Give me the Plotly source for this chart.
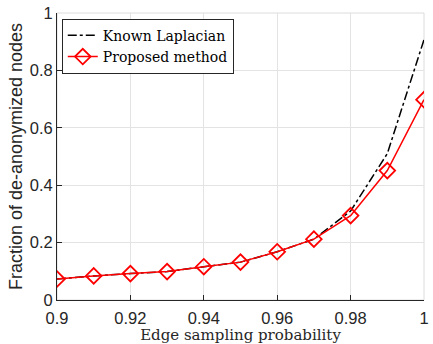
import plotly.graph_objects as go

x_vals = [0.90, 0.91, 0.92, 0.93, 0.94, 0.95, 0.96, 0.97, 0.98, 0.99, 1.00]
known_laplacian = [0.073, 0.084, 0.092, 0.099, 0.116, 0.132, 0.168, 0.212, 0.31, 0.51, 0.907]
proposed_method = [0.073, 0.084, 0.092, 0.099, 0.116, 0.132, 0.168, 0.212, 0.294, 0.451, 0.698]
x_ticks = [0.9, 0.92, 0.94, 0.96, 0.98, 1.0]
x_tick_labels = ["0.9", "0.92", "0.94", "0.96", "0.98", "1"]
y_ticks = [0, 0.2, 0.4, 0.6, 0.8, 1.0]
y_tick_labels = ["0", "0.2", "0.4", "0.6", "0.8", "1"]

fig = go.Figure()
fig.add_trace(go.Scatter(x=x_vals, y=known_laplacian, mode="lines", name="Known Laplacian",
                         line=dict(color="black", width=1.5, dash="dashdot")))
fig.add_trace(go.Scatter(x=x_vals, y=proposed_method, mode="lines+markers", name="Proposed method",
                         line=dict(color="#ff0000", width=1.5),
                         marker=dict(symbol="diamond-open", size=12, color="#ff0000",
                                     line=dict(width=1.8, color="#ff0000"))))

sans = "Liberation Sans"
serif = "DejaVu Serif"

fig.update_layout(
    width=433, height=344,
    margin=dict(l=57, r=4, t=13, b=44),
    paper_bgcolor="white", plot_bgcolor="white",
    showlegend=True,
    legend=dict(x=0.013, y=0.98, xanchor="left", yanchor="top",
                bgcolor="white", bordercolor="#262626", borderwidth=1,
                font=dict(family=serif, size=14, color="#000"),
                tracegroupgap=0, itemwidth=30),
    xaxis=dict(range=[0.9, 1.0], tickvals=x_ticks, ticktext=x_tick_labels,
               showgrid=True, gridcolor="#e3e3e3", gridwidth=1,
               showline=True, linecolor="#262626", linewidth=1,
               ticks="inside", ticklen=5, tickcolor="#262626",
               ticklabeloverflow="allow", ticklabelstandoff=3,
               tickfont=dict(family=sans, size=16.5, color="#262626"),
               title=dict(text="Edge sampling probability", standoff=3,
                          font=dict(family=serif, size=15, color="#262626")),
               zeroline=False),
    yaxis=dict(range=[0, 1.0], tickvals=y_ticks, ticktext=y_tick_labels,
               showgrid=True, gridcolor="#e3e3e3", gridwidth=1,
               showline=True, linecolor="#262626", linewidth=1,
               ticks="inside", ticklen=5, tickcolor="#262626",
               ticklabeloverflow="allow",
               tickfont=dict(family=sans, size=16.5, color="#262626"),
               title=dict(text="Fraction of de-anonymized nodes", standoff=2,
                          font=dict(family=sans, size=18, color="#262626")),
               zeroline=False),
)
fig.add_shape(type="rect", xref="paper", yref="paper", x0=0, y0=0, x1=1, y1=1,
              line=dict(color="#dcdcdc", width=1), layer="below")

fig.write_html("out.html", config={"displayModeBar": False},
               post_script="document.body.style.margin='0';document.body.style.overflow='hidden';")
